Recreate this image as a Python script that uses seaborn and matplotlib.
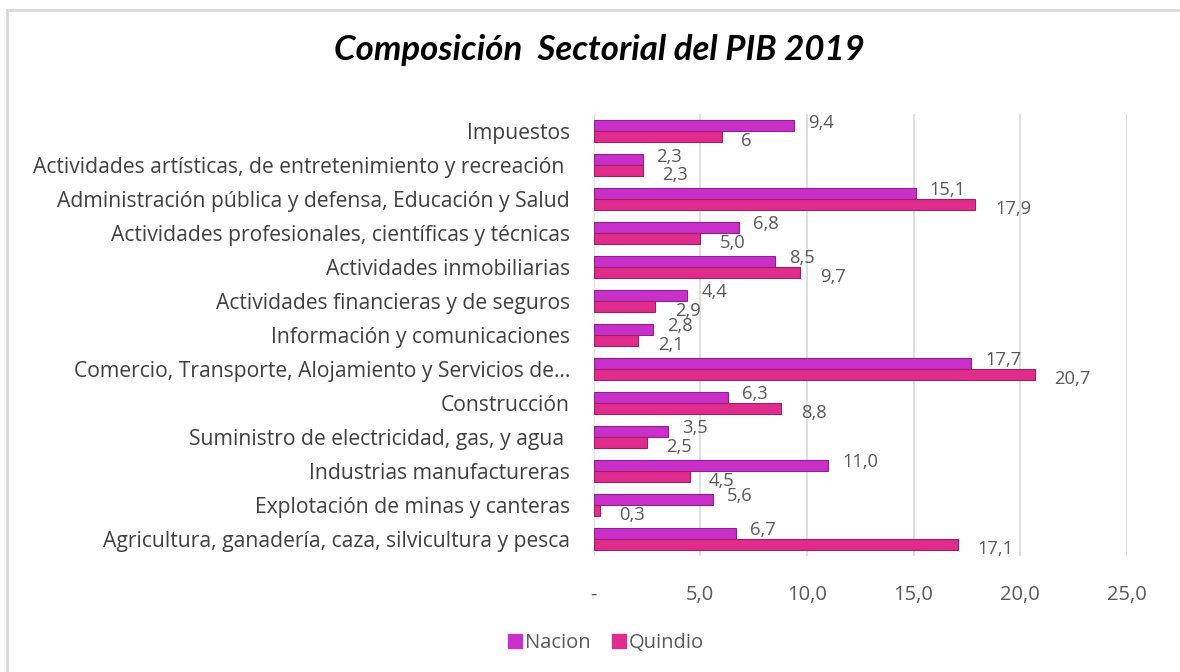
import matplotlib
matplotlib.use('Agg')
import matplotlib.pyplot as plt
import seaborn as sns
import pandas as pd
from matplotlib.lines import Line2D

# Datos del grafico (de arriba hacia abajo)
sectores = [
    'Impuestos',
    'Actividades artísticas, de entretenimiento y recreación ',
    'Administración pública y defensa, Educación y Salud',
    'Actividades profesionales, científicas y técnicas',
    'Actividades inmobiliarias',
    'Actividades financieras y de seguros',
    'Información y comunicaciones',
    'Comercio, Transporte, Alojamiento y Servicios de…',
    'Construcción',
    'Suministro de electricidad, gas, y agua ',
    'Industrias manufactureras',
    'Explotación de minas y canteras',
    'Agricultura, ganadería, caza, silvicultura y pesca',
]
nacion = [9.4, 2.3, 15.1, 6.8, 8.5, 4.4, 2.8, 17.7, 6.3, 3.5, 11.0, 5.6, 6.7]
quindio = [6.0, 2.3, 17.9, 5.0, 9.7, 2.9, 2.1, 20.7, 8.8, 2.5, 4.5, 0.3, 17.1]
etiquetas_nacion = ['9,4', '2,3', '15,1', '6,8', '8,5', '4,4', '2,8', '17,7', '6,3', '3,5', '11,0', '5,6', '6,7']
etiquetas_quindio = ['6', '2,3', '17,9', '5,0', '9,7', '2,9', '2,1', '20,7', '8,8', '2,5', '4,5', '0,3', '17,1']
series = ['Nacion', 'Quindio']
ticks_x = [0, 5, 10, 15, 20, 25]
ticks_x_labels = ['-', '5,0', '10,0', '15,0', '20,0', '25,0']

colores = ['#C930C9', '#E02C8C']
bordes = ['#8E1F8E', '#A01E62']
gris_texto = '#595959'

df = pd.DataFrame({
    'sector': sectores * 2,
    'valor': nacion + quindio,
    'serie': ['Nacion'] * len(sectores) + ['Quindio'] * len(sectores),
})

sns.set_style('white')
plt.rcParams['font.family'] = ['Open Sans', 'DejaVu Sans']

fig = plt.figure(figsize=(11.8, 6.72), dpi=100)
ax = fig.add_axes([0.503, 0.173, 0.452, 0.657])

sns.barplot(data=df, x='valor', y='sector', hue='serie', hue_order=series,
            palette=colores, orient='h', width=0.66, ax=ax, legend=False,
            errorbar=None, saturation=1)

# bordes oscuros para dar algo de relieve
for cont, borde in zip(ax.containers, bordes):
    for barra in cont:
        barra.set_edgecolor(borde)
        barra.set_linewidth(0.8)

# etiquetas de datos (Quindio un poco mas abajo y a la derecha)
for cont, etqs, dy, dx in zip(ax.containers, [etiquetas_nacion, etiquetas_quindio],
                              [-0.09, 0.13], [10, 14]):
    for barra, txt in zip(cont, etqs):
        y = barra.get_y() + barra.get_height() / 2 + dy
        ax.annotate(txt, (barra.get_width(), y), xytext=(dx, 0),
                    textcoords='offset points', va='center', ha='left',
                    fontsize=13.2, color=gris_texto)

ax.set_xlim(0, 25)
ax.set_ylim(len(sectores) - 0.5, -0.5)
ax.set_xticks(ticks_x)
ax.set_xticklabels(ticks_x_labels)
ax.xaxis.grid(True, color='#D9D9D9', linewidth=1.2)
ax.yaxis.grid(False)
ax.set_axisbelow(True)
for s in ax.spines.values():
    s.set_visible(False)
ax.set_xlabel('')
ax.set_ylabel('')
ax.tick_params(axis='x', length=0, pad=21, labelsize=14.5, labelcolor=gris_texto)
ax.tick_params(axis='y', length=0, pad=17, labelsize=15.2, labelcolor='#404040')

fig.text(0.508, 0.925, 'Composición  Sectorial del PIB 2019', ha='center', va='center',
         fontsize=25, fontweight='bold', fontstyle='italic', color='black',
         family=['Lato', 'DejaVu Sans'])

handles = [Line2D([0], [0], marker='s', linestyle='', markersize=10,
                  markerfacecolor=c, markeredgecolor=c) for c in colores]
fig.legend(handles, series, loc='center', bbox_to_anchor=(0.513, 0.043), ncol=2,
           frameon=False, fontsize=14.5, handletextpad=0.1, columnspacing=1.0,
           labelcolor=gris_texto, handlelength=0.8)

# marco del grafico (solo izquierda y arriba visibles)
fig.add_artist(Line2D([7 / 1180, 7 / 1180], [0, 1 - 10 / 672], color='#D9D9D9', linewidth=2))
fig.add_artist(Line2D([7 / 1180, 1], [1 - 10 / 672, 1 - 10 / 672], color='#D9D9D9', linewidth=2))

fig.savefig('out.png', dpi=100, facecolor='white')
